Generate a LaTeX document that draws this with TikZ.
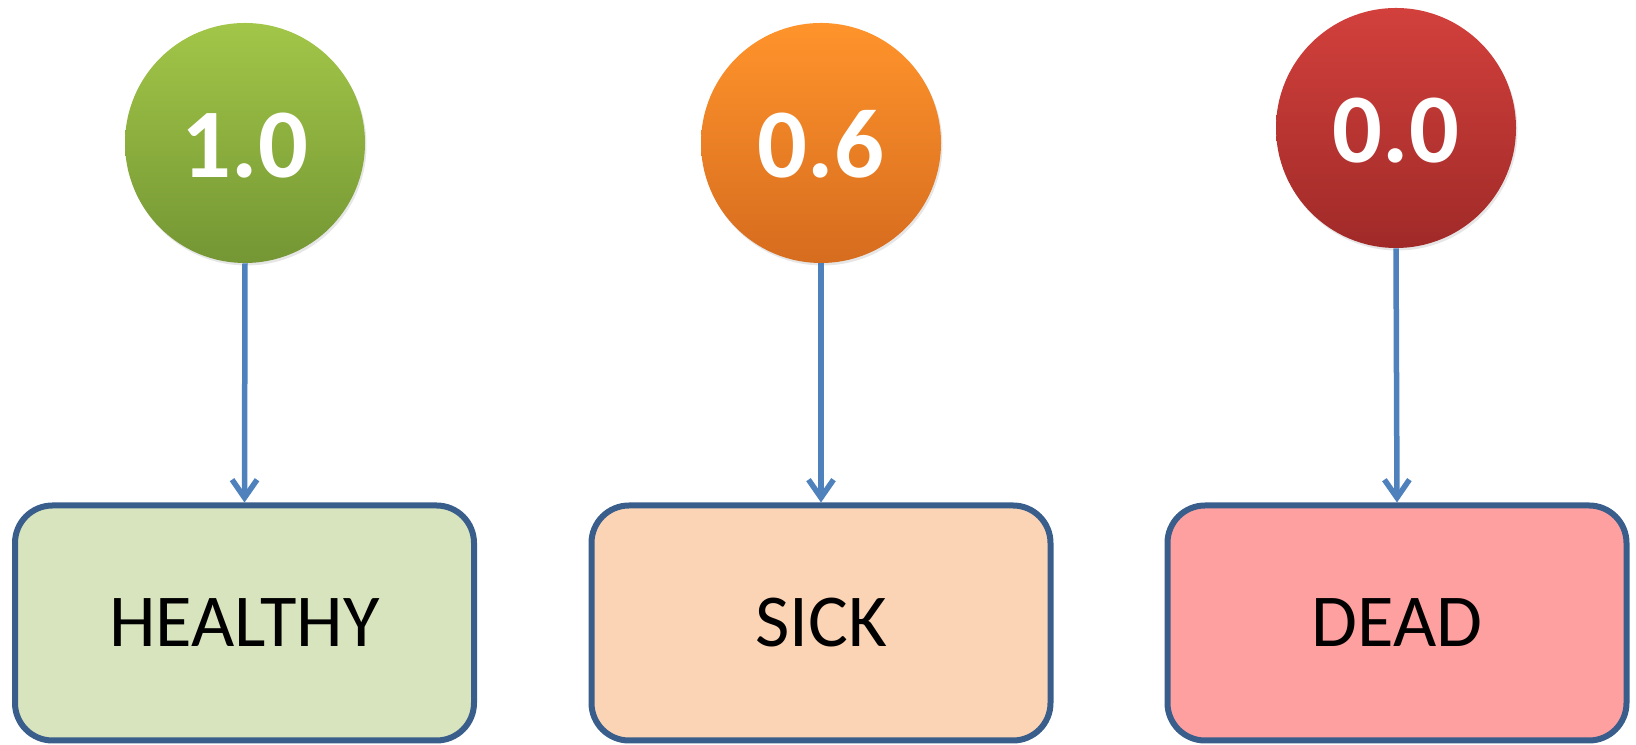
\documentclass[tikz,border=0pt]{standalone}
\usepackage{fontspec}
\setmainfont{Carlito}
\definecolor{hgreentop}{RGB}{162,198,72}
\definecolor{hgreenbot}{RGB}{116,150,52}
\definecolor{sorangetop}{RGB}{255,148,44}
\definecolor{sorangebot}{RGB}{214,108,30}
\definecolor{dredtop}{RGB}{210,64,60}
\definecolor{dredbot}{RGB}{160,42,40}
\definecolor{hgreenbox}{RGB}{216,228,190}
\definecolor{sorangebox}{RGB}{251,212,181}
\definecolor{dredbox}{RGB}{255,160,160}
\definecolor{boxedge}{RGB}{58,94,140}
\definecolor{linkblue}{RGB}{79,129,189}
\usetikzlibrary{arrows.meta,positioning,shadows}

\begin{document}
\begin{tikzpicture}[
  valcircle/.style={circle, minimum size=4.8cm, inner sep=0pt, text=white,
    text height=1.4cm, text depth=0cm,
    font=\fontsize{56}{60}\selectfont\bfseries,
    drop shadow={opacity=0.2, shadow xshift=0.03cm, shadow yshift=-0.05cm}},
  statebox/.style={draw=boxedge, line width=0.12cm, rounded corners=0.75cm,
    minimum width=9.18cm, minimum height=4.70cm, inner sep=0pt,
    font=\fontsize{42.5}{46}\selectfont},
  link/.style={-{Straight Barb[length=0.36cm, width=0.5cm, line width=0.11cm]},
    draw=linkblue, line width=0.11cm}
]
  \useasboundingbox (0,0) rectangle (32.72,14.9);

  %--- value circles ---
  \node[valcircle, top color=hgreentop, bottom color=hgreenbot] (vhealthy) at (4.90,12.04) {1.0};
  \node[valcircle, top color=sorangetop, bottom color=sorangebot] (vsick) at (16.42,12.04) {0.6};
  \node[valcircle, top color=dredtop, bottom color=dredbot] (vdead) at (27.92,12.34) {0.0};

  %--- state boxes ---
  \node[statebox, fill=hgreenbox] (healthy) at (4.89,2.44) {HEALTHY};
  \node[statebox, fill=sorangebox] (sick) at (16.42,2.44) {SICK};
  \node[statebox, fill=dredbox] (dead) at (27.94,2.44) {DEAD};

  %--- links ---
  \draw[link] (vhealthy.south) -- (healthy.north);
  \draw[link] (vsick.south) -- (sick.north);
  \draw[link] (vdead.south) -- (dead.north);
\end{tikzpicture}
\end{document}
